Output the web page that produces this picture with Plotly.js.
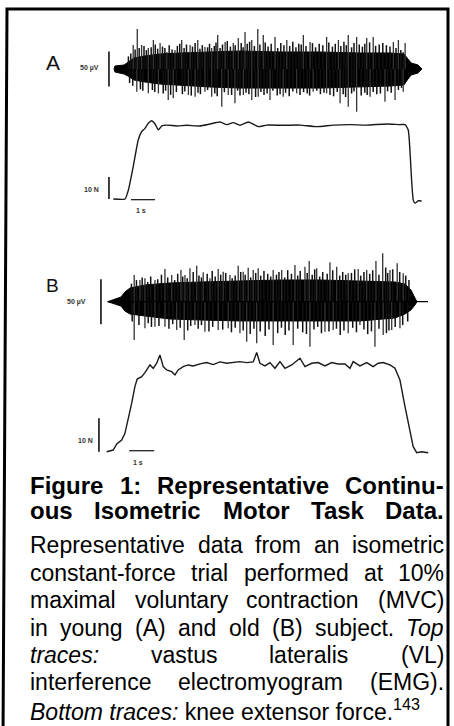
<!DOCTYPE html>
<html><head><meta charset="utf-8">
<script src="https://cdn.plot.ly/plotly-3.0.1.min.js"></script>
<style>html,body{margin:0;padding:0;background:#fff;}#c{width:454px;height:726px;}</style>
</head><body><div id="c"></div>
<script>
// ---------- DATA ----------
// Panel A (young subject) EMG: core envelope (µV), tall spikes and smaller edge spikes
const emgA_envT  = [0, 0.04, 0.42, 0.58, 0.83, 1.29, 1.92, 2.75, 4.0, 5.25, 6.92, 8.58, 10.25, 11.5, 12.08, 12.25, 12.38, 12.67, 12.83];
const emgA_envHi = [0, 4.3, 5.7, 10, 15.7, 18.6, 21.5, 22.9, 24.3, 25.7, 24.3, 24.3, 22.9, 22.9, 21.5, 14.3, 8.6, 5.7, 0];
const emgA_envLo = [0, -4.3, -7.2, -10, -15.7, -18.6, -21.5, -22.9, -25.7, -27.2, -27.2, -27.2, -25.7, -24.3, -22.9, -14.3, -8.6, -5.7, 0];
const emgA_upT = [0.80, 0.97, 1.15, 1.43, 1.64, 1.92, 2.20, 2.54, 2.82, 3.17, 3.49, 3.79, 4.07, 4.32, 4.63, 4.97, 5.18, 5.46, 5.74, 5.99, 6.22, 6.71, 7.20, 7.89, 8.17, 8.86, 9.35, 9.76, 10.11, 10.53, 10.80, 11.64, 11.85, 12.13];
const emgA_upV = [34.3, 57.2, 34.3, 30.0, 41.5, 37.2, 24.3, 27.2, 41.5, 34.3, 41.5, 31.5, 30.0, 48.6, 38.6, 37.2, 44.3, 52.9, 41.5, 57.2, 48.6, 45.8, 41.5, 48.6, 38.6, 45.8, 41.5, 48.6, 45.8, 44.3, 45.8, 38.6, 41.5, 37.2];
const emgA_dnT = [0.95, 1.43, 1.85, 2.26, 2.47, 3.10, 3.38, 3.79, 4.07, 4.49, 4.76, 5.04, 5.39, 5.74, 6.01, 6.50, 7.05, 7.61, 8.30, 8.86, 9.42, 9.76, 10.11, 10.67, 11.29, 11.71, 12.05];
const emgA_dnV = [-32.4, -34.8, -34.8, -44.3, -41.9, -37.2, -39.6, -32.4, -39.6, -53.9, -37.2, -49.0, -37.2, -44.3, -39.6, -44.3, -39.6, -34.8, -32.4, -34.8, -49.0, -53.9, -61.0, -39.6, -46.7, -44.3, -32.4];
const emgA_edgeUpT = [0.6, 0.7, 0.88, 1.05, 1.25, 1.35, 1.55, 1.72, 1.82, 2.02, 2.12, 2.3, 2.42, 2.64, 2.74, 2.92, 3.02, 3.27, 3.38, 3.58, 3.68, 3.9, 3.98, 4.18, 4.25, 4.42, 4.52, 4.72, 4.85, 5.05, 5.3, 5.38, 5.55, 5.65, 5.85, 6.08, 6.3, 6.42, 6.55, 6.82, 6.95, 7.08, 7.32, 7.45, 7.58, 7.7, 7.8, 8.0, 8.27, 8.4, 8.55, 8.7, 8.95, 9.1, 9.22, 9.45, 9.58, 9.68, 9.9, 10.0, 10.22, 10.35, 10.45, 10.65, 10.9, 11.05, 11.2, 11.35, 11.5, 11.75, 11.95, 12.05];
const emgA_edgeUpV = [18, 22, 28, 30, 33, 27, 31, 35, 29, 32, 30, 34, 28, 33, 36, 30, 35, 32, 37, 29, 34, 31, 36, 33, 38, 30, 35, 40, 32, 34, 37, 31, 36, 39, 33, 35, 38, 32, 36, 30, 37, 34, 33, 39, 31, 36, 35, 33, 37, 31, 36, 34, 38, 32, 36, 33, 39, 34, 31, 37, 35, 32, 36, 38, 33, 35, 37, 34, 32, 30, 27, 24];
const emgA_edgeDnT = [0.65, 0.78, 1.1, 1.2, 1.6, 1.7, 2.05, 2.15, 2.36, 2.6, 2.85, 2.95, 3.22, 3.5, 3.6, 3.9, 4.2, 4.3, 4.6, 4.9, 5.15, 5.25, 5.5, 5.62, 5.9, 6.12, 6.25, 6.38, 6.62, 6.8, 6.92, 7.15, 7.3, 7.45, 7.75, 7.9, 8.05, 8.15, 8.45, 8.6, 8.75, 9.0, 9.15, 9.3, 9.55, 9.65, 9.9, 10.0, 10.3, 10.45, 10.55, 10.8, 10.95, 11.1, 11.4, 11.55, 11.85, 11.98];
const emgA_edgeDnV = [-20, -24, -29, -31, -30, -33, -35, -31, -37, -33, -36, -32, -38, -34, -36, -30, -35, -39, -33, -37, -31, -38, -34, -36, -40, -33, -37, -35, -31, -38, -36, -34, -39, -32, -37, -33, -35, -38, -31, -36, -34, -37, -39, -33, -36, -40, -35, -32, -38, -34, -37, -33, -36, -35, -32, -34, -30, -27];
// Panel A knee extensor force (N) vs time (s)
const forceA_t = [-0.03, 0.46, 0.60, 0.80, 1.01, 1.15, 1.29, 1.43, 1.57, 1.71, 1.85, 1.99, 2.20, 2.61, 3.03, 3.58, 4.00, 4.42, 4.70, 4.97, 5.25, 5.60, 6.01, 6.36, 7.05, 7.75, 8.45, 9.14, 9.83, 10.53, 11.36, 11.92, 12.13, 12.26, 12.33, 12.40, 12.47, 12.54, 12.68, 12.82];
const forceA_N = [0, 0, 4.1, 14.7, 26.8, 30.6, 32.1, 34.4, 35.6, 34.1, 31.4, 33.2, 33.6, 33.2, 33.5, 33.2, 34.1, 35.0, 33.8, 34.7, 33.5, 35.0, 32.9, 33.6, 33.5, 33.6, 32.9, 33.6, 33.8, 33.6, 34.1, 33.8, 33.8, 31.4, 22.3, 8.6, -0.5, -1.9, -0.8, -0.9];

// Panel B (old subject) EMG
const emgB_envT  = [0, 0.29, 0.53, 0.69, 0.89, 1.49, 2.49, 3.69, 5.29, 6.89, 8.49, 10.09, 11.49, 11.89, 12.13, 12.29, 12.37];
const emgB_envHi = [0, 3.0, 5.2, 10.8, 15.2, 18.6, 20.8, 21.9, 23.0, 24.1, 24.1, 23.0, 21.9, 19.7, 13.0, 4.1, 0];
const emgB_envLo = [0, -2.6, -4.8, -10.4, -13.7, -15.9, -19.2, -20.3, -21.4, -21.4, -21.4, -21.4, -18.1, -13.7, -9.2, -3.7, 0];
const emgB_lineT = [0, 12.81];
const emgB_upT = [1.06, 1.29, 1.49, 1.89, 2.29, 2.56, 2.93, 3.09, 3.29, 3.56, 3.82, 4.09, 4.42, 4.62, 4.89, 5.22, 5.42, 5.62, 5.82, 6.02, 6.62, 6.96, 7.49, 7.89, 8.06, 8.36, 8.89, 9.16, 9.62, 10.02, 10.36, 10.73, 11.00, 11.29, 11.58, 11.82];
const emgB_upV = [29.7, 24.1, 26.0, 24.1, 36.3, 29.7, 35.2, 29.7, 37.1, 40.0, 32.7, 26.0, 36.3, 33.3, 29.7, 40.0, 33.3, 37.8, 35.2, 37.1, 35.2, 35.2, 40.8, 38.9, 45.2, 37.1, 43.8, 38.9, 31.6, 36.3, 35.2, 45.2, 53.8, 35.2, 42.7, 31.6];
const emgB_dnT = [1.06, 1.49, 1.89, 2.29, 2.76, 3.06, 3.49, 3.89, 4.42, 4.82, 5.29, 5.56, 5.96, 6.62, 7.42, 8.09, 8.69, 9.02, 9.62, 10.09, 10.69, 11.02, 11.36, 11.69];
const emgB_dnV = [-42.6, -29.6, -27.8, -27.8, -31.4, -42.6, -25.9, -33.3, -31.4, -29.6, -35.1, -44.4, -46.2, -48.1, -48.1, -50.0, -33.3, -31.4, -35.1, -25.9, -50.0, -37.0, -31.4, -29.6];
const emgB_edgeUpT = [0.95, 1.15, 1.38, 1.6, 1.72, 2.0, 2.15, 2.4, 2.68, 2.8, 3.0, 3.18, 3.42, 3.65, 3.75, 3.98, 4.18, 4.3, 4.52, 4.72, 4.98, 5.1, 5.32, 5.5, 5.72, 5.92, 6.12, 6.25, 6.4, 6.52, 6.75, 6.85, 7.08, 7.2, 7.35, 7.6, 7.7, 7.98, 8.18, 8.28, 8.48, 8.6, 8.78, 9.0, 9.28, 9.4, 9.52, 9.75, 9.88, 10.12, 10.25, 10.48, 10.6, 10.85, 11.12, 11.2, 11.4, 11.68, 11.92, 12.05];
const emgB_edgeUpV = [20, 24, 27, 22, 28, 25, 30, 27, 24, 31, 28, 26, 33, 29, 27, 31, 34, 28, 30, 32, 26, 29, 33, 30, 27, 32, 29, 34, 31, 28, 30, 33, 27, 35, 31, 29, 34, 32, 30, 36, 28, 33, 31, 35, 29, 33, 30, 32, 36, 29, 33, 31, 35, 30, 38, 32, 36, 33, 29, 24];
const emgB_edgeDnT = [0.98, 1.25, 1.62, 1.75, 2.05, 2.45, 2.6, 2.9, 3.2, 3.32, 3.62, 3.75, 4.05, 4.2, 4.6, 4.95, 5.1, 5.42, 5.7, 5.85, 6.1, 6.3, 6.45, 6.8, 6.95, 7.1, 7.25, 7.6, 7.8, 7.95, 8.25, 8.4, 8.55, 8.85, 9.15, 9.3, 9.45, 9.8, 9.95, 10.25, 10.4, 10.55, 10.85, 11.15, 11.25, 11.5, 11.8, 12.0];
const emgB_edgeDnV = [-22, -26, -24, -28, -27, -30, -25, -29, -32, -27, -30, -26, -33, -28, -31, -34, -29, -32, -36, -30, -33, -38, -31, -35, -29, -37, -32, -30, -34, -36, -31, -28, -35, -33, -30, -37, -32, -29, -34, -31, -36, -33, -30, -35, -32, -28, -26, -22];
// Panel B knee extensor force
const forceB_t = [-0.04, 0.22, 0.36, 0.56, 0.69, 0.82, 0.96, 1.09, 1.18, 1.36, 1.49, 1.69, 1.82, 1.96, 2.09, 2.22, 2.36, 2.56, 2.69, 2.82, 3.02, 3.22, 3.42, 3.69, 3.96, 4.22, 4.49, 4.76, 4.96, 5.29, 5.56, 5.82, 5.96, 6.09, 6.29, 6.49, 6.69, 6.89, 7.09, 7.36, 7.69, 7.89, 8.16, 8.42, 8.69, 8.96, 9.22, 9.49, 9.69, 9.82, 10.09, 10.36, 10.62, 10.82, 11.02, 11.29, 11.49, 11.69, 11.89, 12.09, 12.22, 12.36, 12.56, 12.82];
const forceB_N = [0, 0.5, 2.3, 3.5, 5.5, 9.5, 14.5, 19.5, 21.7, 22.4, 23.6, 25.9, 24.9, 26.4, 28.9, 25.4, 24.4, 23.9, 22.9, 24.4, 25.4, 25.9, 25.6, 26.2, 26.6, 26.0, 26.8, 26.4, 26.6, 26.9, 26.6, 26.8, 29.6, 26.4, 25.6, 26.6, 24.9, 26.9, 24.9, 25.9, 27.9, 25.4, 26.4, 26.6, 25.6, 26.6, 26.2, 26.2, 24.9, 26.9, 25.6, 26.6, 25.4, 26.4, 26.6, 25.9, 24.9, 21.4, 13.5, 6.5, 1.5, -0.3, 0, -0.3];

// Scale bars and their labels
const barEMG_uV = 50, barForce_N = 10, barTime_s = 1;
const labelsEMG = "50 µV", labelsForce = "10 N", labelsTime = "1 s";
const panelLabels = ["A", "B"];
const captionLines = [
  {t: "Figure 1: Representative Continu-", b: true, j: true},
  {t: "ous Isometric Motor Task Data.", b: true, j: true},
  {t: "Representative data from an isometric", j: true},
  {t: "constant-force trial performed at 10%", j: true},
  {t: "maximal voluntary contraction (MVC)", j: true},
  {t: "in young (A) and old (B) subject. _Top", j: true},
  {t: "_traces: vastus lateralis (VL)", j: true},
  {t: "interference electromyogram (EMG).", j: true},
  {t: "<i>Bottom traces:</i> knee extensor force.<sup>143</sup>", j: false}
];

// ---------- LAYOUT GEOMETRY ----------
const W = 454, H = 726;
function xr(px0, ppu) { return [-px0 / ppu, (W - px0) / ppu]; }
function yr(py0, ppu) { return [-(H - py0) / ppu, py0 / ppu]; }
const INK = '#1a1a1a';

function spikes(T, V) {
  const x = [], y = [];
  T.forEach((t, i) => { x.push(t, t, null); y.push(0, V[i], null); });
  return {x, y};
}
function core(T, hi, lo) {
  return {x: T.concat(T.slice().reverse()), y: hi.concat(lo.slice().reverse())};
}
const traces = [];
function addEMG(P, xa, ya) {
  const c = core(P.envT, P.hi, P.lo);
  traces.push({x: c.x, y: c.y, xaxis: xa, yaxis: ya, mode: 'lines', fill: 'toself', fillcolor: '#000', line: {color: '#000', width: 1}, hoverinfo: 'skip'});
  const e1 = spikes(P.eUT, P.eUV), e2 = spikes(P.eDT, P.eDV);
  traces.push({x: e1.x.concat(e2.x), y: e1.y.concat(e2.y), xaxis: xa, yaxis: ya, mode: 'lines', line: {color: '#111', width: 1.5}, hoverinfo: 'skip'});
  const u = spikes(P.upT, P.upV), d = spikes(P.dnT, P.dnV);
  traces.push({x: u.x.concat(d.x), y: u.y.concat(d.y), xaxis: xa, yaxis: ya, mode: 'lines', line: {color: '#333', width: 1.3}, hoverinfo: 'skip'});
}
addEMG({envT: emgA_envT, hi: emgA_envHi, lo: emgA_envLo, upT: emgA_upT, upV: emgA_upV, dnT: emgA_dnT, dnV: emgA_dnV,
        eUT: emgA_edgeUpT, eUV: emgA_edgeUpV, eDT: emgA_edgeDnT, eDV: emgA_edgeDnV}, 'x', 'y');
addEMG({envT: emgB_envT, hi: emgB_envHi, lo: emgB_envLo, upT: emgB_upT, upV: emgB_upV, dnT: emgB_dnT, dnV: emgB_dnV,
        eUT: emgB_edgeUpT, eUV: emgB_edgeUpV, eDT: emgB_edgeDnT, eDV: emgB_edgeDnV}, 'x2', 'y3');
traces.push({x: emgB_lineT, y: emgB_lineT.map(() => 0), xaxis: 'x2', yaxis: 'y3', mode: 'lines', line: {color: '#000', width: 1.3}});
traces.push({x: forceA_t, y: forceA_N, xaxis: 'x', yaxis: 'y2', mode: 'lines', line: {color: INK, width: 1.4, shape: 'spline', smoothing: 0.5}});
traces.push({x: forceB_t, y: forceB_N, xaxis: 'x2', yaxis: 'y4', mode: 'lines', line: {color: INK, width: 1.4}});

// scale bars
function vbar(xa, ya, t, y0, y1, w) { traces.push({x: [t, t], y: [y0, y1], xaxis: xa, yaxis: ya, mode: 'lines', line: {color: '#111', width: w}}); }
function hbar(xa, ya, t0, y, w) { traces.push({x: [t0, t0 + barTime_s], y: [y, y], xaxis: xa, yaxis: ya, mode: 'lines', line: {color: '#222', width: w}}); }
vbar('x', 'y', -0.21, -barEMG_uV / 2, barEMG_uV / 2, 1.6);
vbar('x', 'y2', -0.21, 0, barForce_N, 1.6);
hbar('x', 'y2', 0.71, -0.3, 1.3);
vbar('x2', 'y3', -0.27, -barEMG_uV / 2, barEMG_uV / 2, 1.6);
vbar('x2', 'y4', -0.35, 0, barForce_N, 1.6);
hbar('x2', 'y4', 0.86, 0.3, 1.3);

const small = {family: 'Liberation Sans', size: 7, color: '#333', weight: 'bold'};
const annotations = [
  {xref: 'x', yref: 'y', x: -0.55, y: 2, text: labelsEMG, xanchor: 'right', yanchor: 'middle', showarrow: false, font: small},
  {xref: 'x', yref: 'y2', x: -0.55, y: 4.1, text: labelsForce, xanchor: 'right', yanchor: 'middle', showarrow: false, font: small},
  {xref: 'x', yref: 'y2', x: 1.13, y: -5, text: labelsTime, xanchor: 'center', yanchor: 'middle', showarrow: false, font: small},
  {xref: 'x2', yref: 'y3', x: -0.79, y: 0, text: labelsEMG, xanchor: 'right', yanchor: 'middle', showarrow: false, font: small},
  {xref: 'x2', yref: 'y4', x: -0.51, y: 3.2, text: labelsForce, xanchor: 'right', yanchor: 'middle', showarrow: false, font: small},
  {xref: 'x2', yref: 'y4', x: 1.21, y: -3.1, text: labelsTime, xanchor: 'center', yanchor: 'middle', showarrow: false, font: small},
  {xref: 'paper', yref: 'paper', x: 53.3 / W, y: 1 - 62.5 / H, text: panelLabels[0], xanchor: 'center', yanchor: 'middle', showarrow: false, font: {family: 'Liberation Sans', size: 21, color: '#111'}},
  {xref: 'paper', yref: 'paper', x: 52.5 / W, y: 1 - 285 / H, text: panelLabels[1], xanchor: 'center', yanchor: 'middle', showarrow: false, font: {family: 'Liberation Sans', size: 19, color: '#111'}}
];

// caption: justified lines
const CAP_L = 29.3, CAP_R = 443, FS = 23, FSB = 24;
const baselines = [494, 519.3, 553.3, 580.7, 608.1, 635.5, 662.9, 690.3, 717.7];
const cv = document.createElement('canvas').getContext('2d');
function fontStr(b, i) { return (i ? 'italic ' : '') + (b ? 'bold ' : '') + (b ? FSB : FS) + 'px "Liberation Sans"'; }
captionLines.forEach((ln, k) => {
  const fs = ln.b ? FSB : FS;
  const yc = 1 - (baselines[k] - 0.347 * fs) / H;
  if (!ln.j) {
    annotations.push({xref: 'paper', yref: 'paper', x: CAP_L / W, y: yc, text: ln.t, xanchor: 'left', yanchor: 'middle', showarrow: false, borderpad: 0, font: {family: 'Liberation Sans', size: fs, color: '#000'}});
    return;
  }
  const words = ln.t.split(' ').map(w => ({w: w.replace(/^_/, ''), it: w.startsWith('_')}));
  words.forEach(o => { cv.font = fontStr(ln.b, o.it); o.len = cv.measureText(o.w).width; });
  const tot = words.reduce((s, o) => s + o.len, 0);
  const gap = (CAP_R - CAP_L - tot) / (words.length - 1);
  let x = CAP_L;
  words.forEach(o => {
    annotations.push({xref: 'paper', yref: 'paper', x: x / W, y: yc, text: o.it ? '<i>' + o.w + '</i>' : o.w, xanchor: 'left', yanchor: 'middle', showarrow: false, borderpad: 0,
      font: {family: 'Liberation Sans', size: fs, color: '#000', weight: ln.b ? 'bold' : 'normal'}});
    x += o.len + gap;
  });
});

const ax = {visible: false, fixedrange: true, showgrid: false, zeroline: false};
const layout = {
  width: W, height: H, margin: {l: 0, r: 0, t: 0, b: 0, pad: 0},
  paper_bgcolor: '#fff', plot_bgcolor: 'rgba(0,0,0,0)', showlegend: false,
  xaxis: Object.assign({}, ax, {domain: [0, 1], range: xr(114, 24), anchor: 'y'}),
  xaxis2: Object.assign({}, ax, {overlaying: 'x', range: xr(107.7, 25), anchor: 'y3'}),
  yaxis: Object.assign({}, ax, {domain: [0, 1], range: yr(69, 0.7), anchor: 'x'}),
  yaxis2: Object.assign({}, ax, {overlaying: 'y', range: yr(199, 2.2), anchor: 'x'}),
  yaxis3: Object.assign({}, ax, {overlaying: 'y', range: yr(301.7, 0.9), anchor: 'x2'}),
  yaxis4: Object.assign({}, ax, {overlaying: 'y', range: yr(451.7, 3.35), anchor: 'x2'}),
  annotations: annotations,
  shapes: [{type: 'path', xref: 'paper', yref: 'paper', path: 'M ' + (3 / W) + ' ' + (1 - 740 / H) + ' L ' + (7 / W) + ' ' + (1 - 9 / H) + ' L ' + (448 / W) + ' ' + (1 - 9 / H) + ' L ' + (448 / W) + ' ' + (1 - 740 / H), line: {color: '#000', width: 3}}]
};
Plotly.newPlot('c', traces, layout, {staticPlot: true, displayModeBar: false});
</script></body></html>
